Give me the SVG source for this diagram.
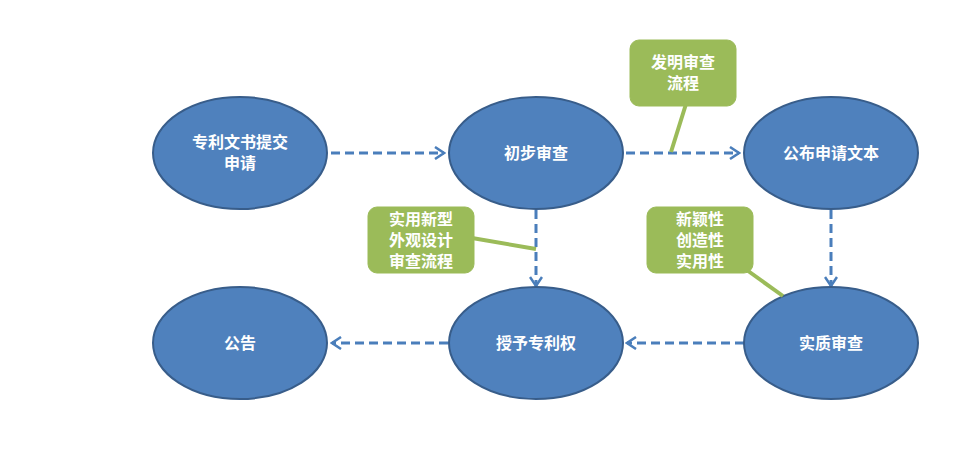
<svg xmlns="http://www.w3.org/2000/svg" width="966" height="460" viewBox="0 0 966 460">
<style>
.n{fill:#4f81bd;stroke:#385d8a;stroke-width:2}
.t{font-family:"Liberation Sans","Noto Sans CJK SC",sans-serif;font-size:16px;font-weight:bold;fill:#fff;text-anchor:middle}
.c{stroke:#4a7ebb;stroke-width:3;stroke-dasharray:9,5;fill:none;marker-end:url(#a)}
.b{fill:#9bbb59;stroke:#9bbb59}
.l{stroke:#9bbb59;stroke-width:4}
</style>
<defs><marker id="a" markerWidth="12" markerHeight="14" refX="10" refY="7" orient="auto" markerUnits="userSpaceOnUse"><path d="M1,1 L10,7 L1,13" fill="none" stroke="#4a7ebb" stroke-width="2.5"/></marker></defs>
<rect width="966" height="460" fill="#fff"/>
<g id="connectors">
<line class="c" x1="331" y1="153" x2="444" y2="153"/>
<line class="c" x1="626" y1="153" x2="739" y2="153"/>
<line class="c" x1="536" y1="210" x2="536" y2="286"/>
<line class="c" x1="831" y1="210" x2="831" y2="286"/>
<line class="c" x1="744" y1="343" x2="627" y2="343"/>
<line class="c" x1="448" y1="343" x2="332" y2="343"/>
</g>
<g id="n1"><ellipse class="n" cx="240" cy="153" rx="87" ry="56"/><text class="t" x="240" y="148">专利文书提交</text><text class="t" x="240" y="169">申请</text></g>
<g id="n2"><ellipse class="n" cx="536" cy="153" rx="87" ry="56"/><text class="t" x="536" y="159">初步审查</text></g>
<g id="n3"><ellipse class="n" cx="831" cy="153" rx="87" ry="56"/><text class="t" x="831" y="159">公布申请文本</text></g>
<g id="n4"><ellipse class="n" cx="240" cy="343" rx="87" ry="56"/><text class="t" x="240" y="349">公告</text></g>
<g id="n5"><ellipse class="n" cx="536" cy="343" rx="87" ry="56"/><text class="t" x="536" y="349">授予专利权</text></g>
<g id="n6"><ellipse class="n" cx="831" cy="343" rx="87" ry="56"/><text class="t" x="831" y="349">实质审查</text></g>
<g id="call1"><line class="l" x1="686" y1="104" x2="671" y2="152"/><rect class="b" x="630" y="40" width="106" height="66" rx="9"/><text class="t" x="683" y="68">发明审查</text><text class="t" x="683" y="89">流程</text></g>
<g id="call2"><line class="l" x1="472" y1="238" x2="536" y2="249"/><rect class="b" x="368" y="207" width="106" height="66" rx="9"/><text class="t" x="421" y="225">实用新型</text><text class="t" x="421" y="246">外观设计</text><text class="t" x="421" y="267">审查流程</text></g>
<g id="call3"><line class="l" x1="744" y1="268" x2="783" y2="296"/><rect class="b" x="647" y="207" width="106" height="66" rx="9"/><text class="t" x="700" y="225">新颖性</text><text class="t" x="700" y="246">创造性</text><text class="t" x="700" y="267">实用性</text></g>
</svg>
